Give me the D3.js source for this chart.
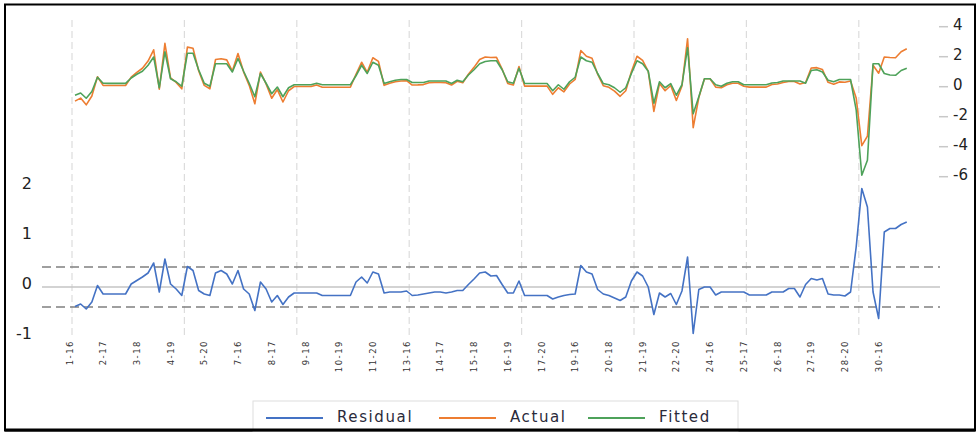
<!DOCTYPE html>
<html><head><meta charset="utf-8">
<script src="https://cdn.jsdelivr.net/npm/d3@7"></script>
<style>
html,body{margin:0;padding:0;background:#fff;}
svg{display:block;font-family:"DejaVu Sans",Verdana,sans-serif;}
</style></head>
<body>
<svg id="chart" width="980" height="436"></svg>
<script>
// ---- data ----
const tickLabels = ["1-16","2-17","3-18","4-19","5-20","7-16","8-17","9-18","10-19","11-20","13-16","14-17","15-18","16-19","17-20","19-16","20-18","21-19","22-20","24-16","25-17","26-18","27-19","28-20","30-16"];
const labelEvery = 6;
const fitted = [-0.57,-0.42,-0.77,-0.32,0.63,0.23,0.22,0.22,0.22,0.22,
 0.58,0.83,1.03,1.43,1.98,-0.07,2.33,0.53,0.33,0.03,
 2.23,2.23,1.13,0.23,0.03,1.53,1.53,1.53,0.98,1.88,
 1.03,0.23,-0.67,0.88,0.23,-0.47,-0.02,-0.67,-0.07,0.13,
 0.13,0.13,0.13,0.23,0.13,0.13,0.13,0.13,0.13,0.13,
 0.73,1.43,0.88,1.63,1.43,0.21,0.33,0.43,0.48,0.48,
 0.28,0.28,0.28,0.38,0.38,0.38,0.38,0.21,0.43,0.33,
 0.78,1.13,1.53,1.68,1.73,1.73,1.13,0.33,0.23,1.23,
 0.21,0.21,0.21,0.21,0.21,-0.27,0.13,-0.17,0.33,0.63,
 1.98,1.73,1.63,0.88,0.21,0.13,-0.07,-0.37,-0.07,0.88,
 1.73,1.53,1.03,-1.10,0.33,-0.07,0.21,-0.57,0.13,2.60,
 -1.80,-0.67,0.53,0.53,0.13,0.03,0.23,0.33,0.33,0.13,
 0.13,0.13,0.13,0.13,0.25,0.28,0.38,0.38,0.38,0.38,
 0.23,1.08,1.13,0.98,0.43,0.33,0.48,0.48,0.48,-1.55,
 -5.90,-4.90,1.53,1.53,0.88,0.78,0.76,1.08,1.23];
const actual = [-0.96,-0.76,-1.21,-0.62,0.66,0.09,0.08,0.08,0.08,0.08,
 0.64,0.96,1.23,1.71,2.46,-0.17,2.89,0.59,0.29,-0.14,
 2.64,2.56,1.06,0.09,-0.14,1.81,1.86,1.79,1.04,2.21,
 0.99,0.09,-1.14,0.98,0.19,-0.77,-0.19,-1.02,-0.27,0.01,
 0.01,0.01,0.01,0.11,-0.04,-0.04,-0.04,-0.04,-0.04,-0.04,
 0.83,1.63,0.96,1.93,1.69,0.09,0.23,0.33,0.38,0.40,
 0.11,0.12,0.14,0.26,0.28,0.28,0.26,0.11,0.36,0.26,
 0.83,1.29,1.81,1.98,1.95,1.96,1.18,0.21,0.11,1.35,
 0.04,0.04,0.04,0.04,0.04,-0.51,-0.07,-0.34,0.18,0.49,
 2.41,2.03,1.89,0.83,0.07,-0.04,-0.29,-0.64,-0.27,1.00,
 2.03,1.75,1.03,-1.65,0.21,-0.27,0.08,-0.92,0.05,3.20,
 -2.73,-0.72,0.53,0.53,-0.03,-0.07,0.13,0.23,0.23,0.03,
 -0.03,-0.03,-0.03,-0.03,0.15,0.18,0.28,0.35,0.35,0.18,
 0.28,1.25,1.27,1.15,0.29,0.17,0.32,0.30,0.38,-0.75,
 -3.93,-3.30,1.43,0.90,1.98,1.95,1.93,2.33,2.53];
const residual = [-0.39,-0.34,-0.44,-0.30,0.03,-0.14,-0.14,-0.14,-0.14,-0.14,
 0.06,0.13,0.20,0.28,0.48,-0.10,0.56,0.06,-0.04,-0.17,
 0.41,0.33,-0.07,-0.14,-0.17,0.28,0.33,0.26,0.06,0.33,
 -0.04,-0.14,-0.47,0.10,-0.04,-0.30,-0.17,-0.35,-0.20,-0.12,
 -0.12,-0.12,-0.12,-0.12,-0.17,-0.17,-0.17,-0.17,-0.17,-0.17,
 0.10,0.20,0.08,0.30,0.26,-0.12,-0.10,-0.10,-0.10,-0.08,
 -0.17,-0.16,-0.14,-0.12,-0.10,-0.10,-0.12,-0.10,-0.07,-0.07,
 0.05,0.16,0.28,0.30,0.22,0.23,0.05,-0.12,-0.12,0.12,
 -0.17,-0.17,-0.17,-0.17,-0.17,-0.24,-0.20,-0.17,-0.15,-0.14,
 0.43,0.30,0.26,-0.05,-0.14,-0.17,-0.22,-0.27,-0.20,0.12,
 0.30,0.22,0.00,-0.55,-0.12,-0.20,-0.13,-0.35,-0.08,0.60,
 -0.93,-0.05,0.00,0.00,-0.16,-0.10,-0.10,-0.10,-0.10,-0.10,
 -0.16,-0.16,-0.16,-0.16,-0.10,-0.10,-0.10,-0.03,-0.03,-0.20,
 0.05,0.17,0.14,0.17,-0.14,-0.16,-0.16,-0.18,-0.10,0.80,
 1.97,1.60,-0.10,-0.63,1.10,1.17,1.17,1.25,1.30];
const leftTicks = [-1,0,1,2];
const rightTicks = [-6,-4,-2,0,2,4];
const bandLimit = 0.4;
const seriesNames = ["Residual","Actual","Fitted"];
const seriesColors = ["#4472C4","#ED7D31","#4EA25A"];

// ---- chart ----
const svg = d3.select("#chart");
const n = fitted.length;
const x = d3.scaleLinear().domain([0, n-1]).range([75, 75 + 5.62*(n-1)]);
const yR = d3.scaleLinear().domain([-6,4]).range([176.7, 26.7]);
const yL = d3.scaleLinear().domain([-1,2]).range([337, 187]);

// frame
svg.append("rect").attr("x",5).attr("y",4.5).attr("width",970).attr("height",426)
  .attr("fill","#fff").attr("stroke","#000").attr("stroke-width",2);

// vertical grid lines every 20 obs
const gridIdx = d3.range(0, n, 20);
svg.append("g").selectAll("line").data(gridIdx).join("line")
  .attr("x1",d=>x(d)-3).attr("x2",d=>x(d)-3)
  .attr("y1",20).attr("y2",335)
  .attr("stroke","#dcdcdc").attr("stroke-width",1.2).attr("stroke-dasharray","7,4");

// residual reference lines
const x0 = 42, x1 = 940;
svg.append("line").attr("x1",x0).attr("x2",x1).attr("y1",yL(0)).attr("y2",yL(0))
  .attr("stroke","#c4c4c4").attr("stroke-width",1.5);
[bandLimit,-bandLimit].forEach(v=>{
  svg.append("line").attr("x1",x0).attr("x2",x1).attr("y1",yL(v)).attr("y2",yL(v))
    .attr("stroke","#808080").attr("stroke-width",1.6).attr("stroke-dasharray","9,5");
});

// lines
const lineR = d3.line().x((d,i)=>x(i)).y(d=>yR(d));
const lineL = d3.line().x((d,i)=>x(i)).y(d=>yL(d));
svg.append("path").datum(residual).attr("d",lineL).attr("fill","none")
  .attr("stroke",seriesColors[0]).attr("stroke-width",1.6).attr("stroke-linejoin","round");
svg.append("path").datum(actual).attr("d",lineR).attr("fill","none")
  .attr("stroke",seriesColors[1]).attr("stroke-width",1.6).attr("stroke-linejoin","round");
svg.append("path").datum(fitted).attr("d",lineR).attr("fill","none")
  .attr("stroke",seriesColors[2]).attr("stroke-width",1.6).attr("stroke-linejoin","round");

// left axis labels
svg.append("g").selectAll("text").data(leftTicks).join("text")
  .attr("x",32).attr("y",d=>yL(d)-4).attr("dy","0.36em")
  .attr("text-anchor","end").attr("font-size",16).attr("fill","#222")
  .text(d=>d);

// right axis
const ra = svg.append("g");
ra.selectAll("line").data(rightTicks).join("line")
  .attr("x1",939).attr("x2",948).attr("y1",d=>yR(d)).attr("y2",d=>yR(d))
  .attr("stroke","#c8c8c8").attr("stroke-width",1.5);
ra.selectAll("text").data(rightTicks).join("text")
  .attr("x",953).attr("y",d=>yR(d)-2.5).attr("dy","0.36em")
  .attr("text-anchor","start").attr("font-size",15).attr("fill","#222")
  .text(d=>d);

// x labels
svg.append("g").selectAll("text").data(tickLabels).join("text")
  .attr("transform",(d,i)=>`translate(${x(i*labelEvery)-2.5},340) rotate(-90)`)
  .attr("text-anchor","end").attr("font-size",8.5).attr("letter-spacing","1.5px")
  .attr("fill","#333").text(d=>d);

// legend
const lg = svg.append("g");
lg.append("rect").attr("x",253).attr("y",401).attr("width",485).attr("height",30)
  .attr("fill","#fff").attr("stroke","#dedede");
const legX = [266, 439, 588];
seriesNames.forEach((s,i)=>{
  lg.append("line").attr("x1",legX[i]).attr("x2",legX[i]+57).attr("y1",418).attr("y2",418)
    .attr("stroke",seriesColors[i]).attr("stroke-width",1.8);
  lg.append("text").attr("x",legX[i]+71).attr("y",417).attr("dy","0.36em")
    .attr("font-size",15).attr("letter-spacing","1.6px").attr("fill","#2a2a3a").text(s);
});
// bottom border line over legend
svg.append("line").attr("x1",5).attr("x2",975).attr("y1",430).attr("y2",430)
  .attr("stroke","#000").attr("stroke-width",3);
</script>
</body></html>
